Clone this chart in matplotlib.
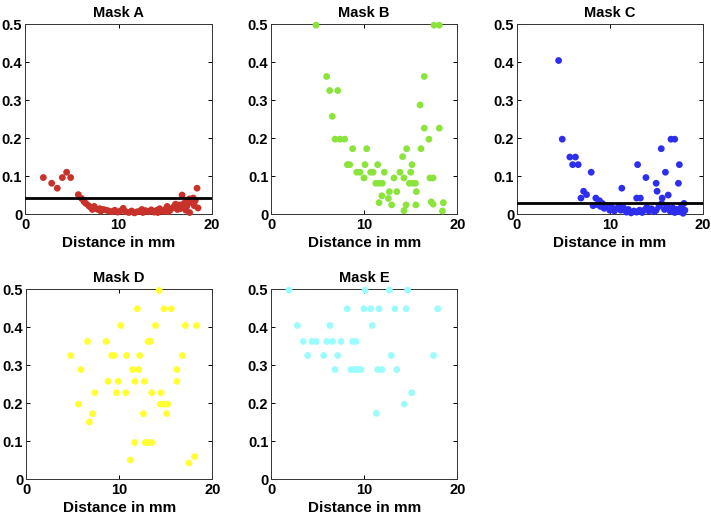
import matplotlib
matplotlib.use("Agg")
import matplotlib.pyplot as plt

# ---- data ----
mask_a_x = [1.96, 2.85, 3.45, 3.99, 4.45, 4.88, 5.7, 6.05, 6.3, 6.5, 6.8, 7.0, 7.2, 7.5, 7.8,
            8.1, 8.4, 8.7, 9.0, 9.3, 9.6, 9.9, 10.2, 10.5, 10.8, 11.1, 11.4, 11.7, 12.0, 12.3,
            12.6, 12.9, 13.2, 13.5, 13.8, 14.1, 14.4, 14.7, 15.0, 15.2, 15.5, 15.8, 16.0, 16.3,
            16.5, 16.8, 16.8, 17.0, 17.2, 17.4, 17.6, 17.6, 17.8, 18.0, 18.1, 18.4, 18.5, 18.2,
            7.4, 8.0, 12.5, 14.2, 15.3, 16.1, 16.6, 17.3]
mask_a_y = [0.096, 0.081, 0.068, 0.096, 0.110, 0.096, 0.051, 0.041, 0.033, 0.028, 0.022, 0.018,
            0.012, 0.015, 0.012, 0.008, 0.012, 0.010, 0.008, 0.006, 0.010, 0.005, 0.008, 0.015,
            0.006, 0.004, 0.008, 0.003, 0.006, 0.008, 0.004, 0.009, 0.006, 0.011, 0.005, 0.010,
            0.014, 0.007, 0.012, 0.020, 0.010, 0.016, 0.022, 0.012, 0.024, 0.018, 0.050, 0.028,
            0.010, 0.035, 0.040, 0.004, 0.030, 0.042, 0.022, 0.068, 0.016, 0.035,
            0.020, 0.014, 0.012, 0.004, 0.006, 0.026, 0.014, 0.020]
mask_a_line = 0.042

mask_b_x = [4.83, 17.5, 18.07, 5.97, 6.3, 7.16, 6.58, 6.87, 7.4, 7.9, 8.76, 10.27, 14.56, 16.1,
            16.95, 8.2, 8.45, 10.09, 11.45, 15.13, 14.13, 9.2, 9.55, 10.7, 10.95, 12.16, 13.84,
            15.0, 9.98, 13.2, 14.27, 17.06, 17.4, 11.25, 11.6, 11.95, 14.85, 15.2, 15.5, 12.7,
            13.5, 15.6, 11.9, 12.6, 11.6, 12.95, 14.5, 15.55, 14.27, 17.2, 17.4, 18.5, 18.4,
            16.45, 18.07, 16.0, 16.45]
mask_b_y = [0.497, 0.497, 0.497, 0.362, 0.325, 0.325, 0.257, 0.197, 0.197, 0.197, 0.172, 0.172,
            0.172, 0.172, 0.197, 0.130, 0.130, 0.130, 0.130, 0.130, 0.151, 0.110, 0.110, 0.110,
            0.110, 0.110, 0.110, 0.110, 0.095, 0.095, 0.095, 0.095, 0.095, 0.081, 0.081, 0.081,
            0.081, 0.081, 0.081, 0.059, 0.059, 0.059, 0.048, 0.041, 0.030, 0.024, 0.024, 0.024,
            0.009, 0.032, 0.026, 0.030, 0.008, 0.226, 0.226, 0.287, 0.362]

mask_c_x = [4.49, 4.88, 5.7, 6.3, 6.0, 6.6, 8.0, 6.9, 7.18, 7.5, 8.5, 8.9, 11.3, 13.0, 13.9,
            15.0, 15.1, 15.55, 16.0, 16.3, 16.6, 17.0, 17.5, 17.4, 12.9, 13.3, 15.65, 18.0,
            8.2, 8.6, 9.0, 9.2, 9.4, 9.7, 10.0, 10.2, 10.5, 10.8, 11.0, 11.2, 11.5, 11.8, 12.0,
            12.3, 12.6, 12.9, 13.2, 13.5, 13.8, 14.0, 14.2, 14.5, 14.8, 15.0, 15.3, 15.6, 15.9,
            16.2, 16.5, 16.8, 17.0, 17.2, 17.5, 17.7, 17.9, 18.1]
mask_c_y = [0.404, 0.197, 0.150, 0.150, 0.130, 0.130, 0.110, 0.042, 0.060, 0.051, 0.042, 0.035,
            0.068, 0.130, 0.096, 0.081, 0.060, 0.172, 0.110, 0.050, 0.197, 0.197, 0.130, 0.081,
            0.042, 0.042, 0.042, 0.028,
            0.022, 0.025, 0.020, 0.028, 0.015, 0.022, 0.010, 0.018, 0.008, 0.015, 0.020, 0.010,
            0.016, 0.005, 0.012, 0.003, 0.008, 0.005, 0.010, 0.004, 0.012, 0.018, 0.008, 0.014,
            0.006, 0.010, 0.020, 0.028, 0.012, 0.022, 0.008, 0.016, 0.004, 0.012, 0.006, 0.018,
            0.002, 0.010]
mask_c_line = 0.030

mask_d_x = [14.3, 11.95, 14.8, 15.6, 10.16, 13.9, 17.1, 18.3, 6.6, 8.6, 13.1, 13.35, 4.8, 9.2,
            9.45, 10.8, 12.2, 16.8, 5.9, 11.45, 12.1, 16.2, 8.8, 9.9, 11.7, 12.7, 16.2, 7.4,
            9.7, 10.7, 13.5, 14.5, 5.65, 14.4, 14.8, 15.2, 7.15, 12.6, 15.1, 6.8, 11.66, 12.8,
            13.15, 13.5, 11.2, 17.5, 18.1]
mask_d_y = [0.496, 0.448, 0.448, 0.448, 0.404, 0.404, 0.404, 0.404, 0.362, 0.362, 0.362, 0.362,
            0.325, 0.325, 0.325, 0.325, 0.325, 0.325, 0.288, 0.288, 0.288, 0.288, 0.257, 0.257,
            0.257, 0.257, 0.257, 0.227, 0.227, 0.227, 0.227, 0.227, 0.197, 0.197, 0.197, 0.197,
            0.172, 0.172, 0.172, 0.150, 0.096, 0.096, 0.096, 0.096, 0.050, 0.042, 0.059]

mask_e_x = [1.93, 10.1, 12.7, 14.67, 8.18, 9.97, 10.7, 11.6, 13.3, 14.5, 17.9, 2.83, 6.33,
            10.87, 3.47, 4.4, 4.86, 5.97, 6.6, 7.5, 8.76, 9.12, 3.93, 5.65, 7.15, 12.9, 17.45,
            6.87, 8.58, 9.0, 9.3, 9.66, 11.45, 11.9, 13.5, 15.1, 14.3, 11.3]
mask_e_y = [0.497, 0.497, 0.497, 0.497, 0.448, 0.448, 0.448, 0.448, 0.448, 0.448, 0.448, 0.404,
            0.404, 0.404, 0.362, 0.362, 0.362, 0.362, 0.362, 0.362, 0.362, 0.362, 0.325, 0.325,
            0.325, 0.325, 0.325, 0.288, 0.288, 0.288, 0.288, 0.288, 0.288, 0.288, 0.288, 0.227,
            0.197, 0.173]

panels = [
    ("Mask A", mask_a_x, mask_a_y, "#c8322a", mask_a_line, [0.0352, 0.586, 0.263, 0.3675]),
    ("Mask B", mask_b_x, mask_b_y, "#8ae43a", None, [0.3812, 0.586, 0.262, 0.3675]),
    ("Mask C", mask_c_x, mask_c_y, "#2e2ef0", mask_c_line, [0.7271, 0.586, 0.261, 0.3675]),
    ("Mask D", mask_d_x, mask_d_y, "#ffff33", None, [0.0366, 0.0735, 0.262, 0.3675]),
    ("Mask E", mask_e_x, mask_e_y, "#9cfcfc", None, [0.3812, 0.0735, 0.262, 0.3675]),
]

plt.rcParams["font.family"] = ["Liberation Sans", "DejaVu Sans"]
plt.rcParams["font.weight"] = "bold"

fig = plt.figure(figsize=(7.11, 5.17), dpi=100)

for title, xs, ys, color, line_y, rect in panels:
    ax = fig.add_axes(rect)
    ax.scatter(xs, ys, s=24, color=color, edgecolors="none", clip_on=False, zorder=3)
    if line_y is not None:
        ax.axhline(line_y, color="black", linewidth=2.0, zorder=4)
    ax.set_xlim(0, 20)
    ax.set_ylim(0, 0.5)
    ax.set_xticks([0, 10, 20])
    ax.set_xticklabels(["0", "10", "20"])
    ax.set_yticks([0, 0.1, 0.2, 0.3, 0.4, 0.5])
    ax.set_yticklabels(["0", "0.1", "0.2", "0.3", "0.4", "0.5"])
    ax.tick_params(direction="in", top=True, right=True, length=3, width=0.7,
                   labelsize=10.5, pad=2)
    ax.tick_params(axis="x", pad=3)
    for sp in ax.spines.values():
        sp.set_linewidth(0.7)
        sp.set_color("#333333")
    ax.set_title(title, fontsize=10.5, fontweight="bold", pad=5)
    ax.set_xlabel("Distance in mm", fontsize=11, fontweight="bold", labelpad=3)

fig.savefig("out.png", dpi=100)
